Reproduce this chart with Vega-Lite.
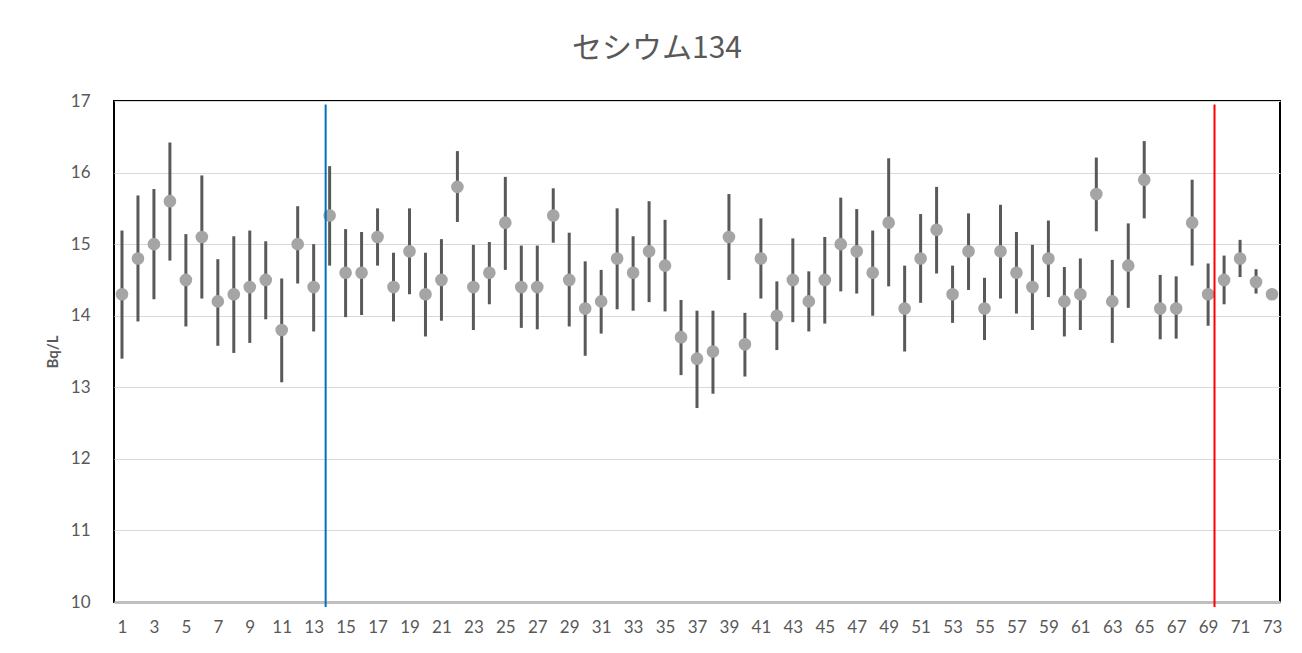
{
  "$schema": "https://vega.github.io/schema/vega-lite/v6.json",
  "width": 1166,
  "height": 501,
  "autosize": {"type": "none"},
  "padding": {"left": 114, "top": 101, "right": 22, "bottom": 51},
  "background": "#ffffff",
  "config": {
    "view": {"stroke": "#000000", "strokeWidth": 2},
    "font": "Lato"
  },
  "title": {
    "text": "セシウム134",
    "font": "Noto Sans CJK JP",
    "fontSize": 30,
    "fontWeight": "normal",
    "color": "#595959",
    "anchor": "middle",
    "dx": -40,
    "offset": 28
  },
  "datasets": {
    "pts": [
      {"n":1,"v":14.3,"lo":13.4,"hi":15.19},
      {"n":2,"v":14.8,"lo":13.92,"hi":15.68},
      {"n":3,"v":15.0,"lo":14.23,"hi":15.77},
      {"n":4,"v":15.6,"lo":14.77,"hi":16.42},
      {"n":5,"v":14.5,"lo":13.85,"hi":15.14},
      {"n":6,"v":15.1,"lo":14.24,"hi":15.96},
      {"n":7,"v":14.2,"lo":13.58,"hi":14.79},
      {"n":8,"v":14.3,"lo":13.48,"hi":15.11},
      {"n":9,"v":14.4,"lo":13.62,"hi":15.19},
      {"n":10,"v":14.5,"lo":13.95,"hi":15.04},
      {"n":11,"v":13.8,"lo":13.07,"hi":14.52},
      {"n":12,"v":15.0,"lo":14.45,"hi":15.53},
      {"n":13,"v":14.4,"lo":13.78,"hi":15.0},
      {"n":14,"v":15.4,"lo":14.7,"hi":16.09},
      {"n":15,"v":14.6,"lo":13.98,"hi":15.21},
      {"n":16,"v":14.6,"lo":14.01,"hi":15.17},
      {"n":17,"v":15.1,"lo":14.7,"hi":15.5},
      {"n":18,"v":14.4,"lo":13.92,"hi":14.88},
      {"n":19,"v":14.9,"lo":14.3,"hi":15.5},
      {"n":20,"v":14.3,"lo":13.71,"hi":14.88},
      {"n":21,"v":14.5,"lo":13.93,"hi":15.07},
      {"n":22,"v":15.8,"lo":15.31,"hi":16.3},
      {"n":23,"v":14.4,"lo":13.8,"hi":14.99},
      {"n":24,"v":14.6,"lo":14.16,"hi":15.03},
      {"n":25,"v":15.3,"lo":14.64,"hi":15.94},
      {"n":26,"v":14.4,"lo":13.83,"hi":14.98},
      {"n":27,"v":14.4,"lo":13.81,"hi":14.98},
      {"n":28,"v":15.4,"lo":15.02,"hi":15.78},
      {"n":29,"v":14.5,"lo":13.85,"hi":15.16},
      {"n":30,"v":14.1,"lo":13.44,"hi":14.76},
      {"n":31,"v":14.2,"lo":13.75,"hi":14.64},
      {"n":32,"v":14.8,"lo":14.09,"hi":15.5},
      {"n":33,"v":14.6,"lo":14.07,"hi":15.11},
      {"n":34,"v":14.9,"lo":14.19,"hi":15.6},
      {"n":35,"v":14.7,"lo":14.06,"hi":15.34},
      {"n":36,"v":13.7,"lo":13.17,"hi":14.22},
      {"n":37,"v":13.4,"lo":12.71,"hi":14.07},
      {"n":38,"v":13.5,"lo":12.91,"hi":14.07},
      {"n":39,"v":15.1,"lo":14.5,"hi":15.7},
      {"n":40,"v":13.6,"lo":13.15,"hi":14.04},
      {"n":41,"v":14.8,"lo":14.24,"hi":15.36},
      {"n":42,"v":14.0,"lo":13.52,"hi":14.48},
      {"n":43,"v":14.5,"lo":13.91,"hi":15.08},
      {"n":44,"v":14.2,"lo":13.78,"hi":14.62},
      {"n":45,"v":14.5,"lo":13.89,"hi":15.1},
      {"n":46,"v":15.0,"lo":14.34,"hi":15.65},
      {"n":47,"v":14.9,"lo":14.31,"hi":15.49},
      {"n":48,"v":14.6,"lo":14.0,"hi":15.19},
      {"n":49,"v":15.3,"lo":14.41,"hi":16.2},
      {"n":50,"v":14.1,"lo":13.5,"hi":14.7},
      {"n":51,"v":14.8,"lo":14.18,"hi":15.42},
      {"n":52,"v":15.2,"lo":14.59,"hi":15.8},
      {"n":53,"v":14.3,"lo":13.9,"hi":14.7},
      {"n":54,"v":14.9,"lo":14.36,"hi":15.43},
      {"n":55,"v":14.1,"lo":13.66,"hi":14.53},
      {"n":56,"v":14.9,"lo":14.24,"hi":15.55},
      {"n":57,"v":14.6,"lo":14.03,"hi":15.17},
      {"n":58,"v":14.4,"lo":13.8,"hi":14.99},
      {"n":59,"v":14.8,"lo":14.26,"hi":15.33},
      {"n":60,"v":14.2,"lo":13.71,"hi":14.68},
      {"n":61,"v":14.3,"lo":13.8,"hi":14.8},
      {"n":62,"v":15.7,"lo":15.18,"hi":16.21},
      {"n":63,"v":14.2,"lo":13.62,"hi":14.78},
      {"n":64,"v":14.7,"lo":14.11,"hi":15.29},
      {"n":65,"v":15.9,"lo":15.36,"hi":16.44},
      {"n":66,"v":14.1,"lo":13.67,"hi":14.57},
      {"n":67,"v":14.1,"lo":13.68,"hi":14.55},
      {"n":68,"v":15.3,"lo":14.7,"hi":15.9},
      {"n":69,"v":14.3,"lo":13.86,"hi":14.73},
      {"n":70,"v":14.5,"lo":14.16,"hi":14.84},
      {"n":71,"v":14.8,"lo":14.54,"hi":15.06},
      {"n":72,"v":14.47,"lo":14.31,"hi":14.65},
      {"n":73,"v":14.3,"lo":14.25,"hi":14.35}
    ],
    "marks": [
      {"pos": 13.75, "top": 16.95, "bottom": 9.93, "col": "blue"},
      {"pos": 69.4, "top": 16.95, "bottom": 9.93, "col": "red"}
    ]
  },
  "encoding": {
    "x": {
      "field": "n",
      "type": "quantitative",
      "scale": {"domain": [0.5, 73.5], "nice": false, "zero": false},
      "axis": {
        "title": null,
        "values": [1,3,5,7,9,11,13,15,17,19,21,23,25,27,29,31,33,35,37,39,41,43,45,47,49,51,53,55,57,59,61,63,65,67,69,71,73],
        "format": "d",
        "grid": false,
        "ticks": false,
        "domainColor": "#BFBFBF",
        "domainWidth": 3,
        "labelFont": "Lato",
        "labelFontSize": 17,
        "labelColor": "#595959",
        "labelPadding": 17,
        "labelFlush": false,
        "labelOverlap": false
      }
    }
  },
  "layer": [
    {
      "data": {"name": "pts"},
      "mark": {"type": "rule", "color": "#595959", "strokeWidth": 3},
      "encoding": {
        "y": {
          "field": "lo",
          "type": "quantitative",
          "scale": {"domain": [10, 17], "nice": false, "zero": false},
          "axis": {
            "title": "Bq/L",
            "titleFont": "Lato",
            "titleFontSize": 15,
            "titleFontWeight": "bold",
            "titleColor": "#595959",
            "titlePadding": 10,
            "values": [10,11,12,13,14,15,16,17],
            "format": "d",
            "grid": true,
            "gridColor": "#D9D9D9",
            "gridWidth": 1,
            "ticks": false,
            "domain": false,
            "labelFont": "Lato",
            "labelFontSize": 17,
            "labelColor": "#595959",
            "labelPadding": 24
          }
        },
        "y2": {"field": "hi"}
      }
    },
    {
      "data": {"name": "pts"},
      "mark": {"type": "point", "shape": "circle", "filled": true, "color": "#A5A5A5", "opacity": 1, "size": 160},
      "encoding": {
        "y": {"field": "v", "type": "quantitative"}
      }
    },
    {
      "data": {"name": "marks"},
      "mark": {"type": "rule", "strokeWidth": 2},
      "encoding": {
        "x": {"field": "pos", "type": "quantitative"},
        "y": {"field": "top", "type": "quantitative"},
        "y2": {"field": "bottom"},
        "color": {
          "field": "col",
          "type": "nominal",
          "scale": {"domain": ["blue", "red"], "range": ["#0070C0", "#FF0000"]},
          "legend": null
        }
      }
    }
  ]
}
